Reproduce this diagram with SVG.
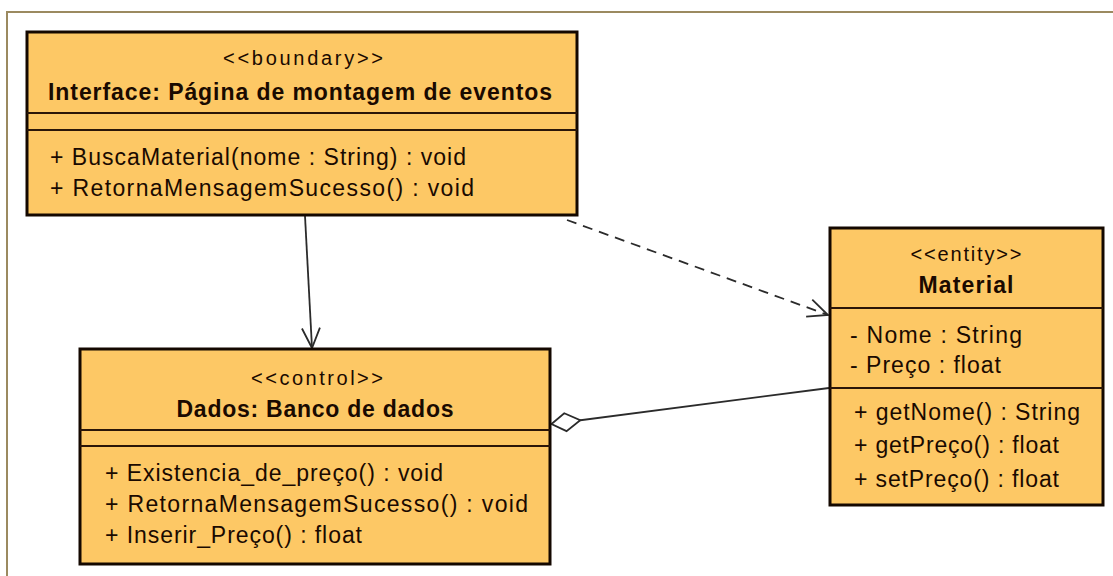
<svg xmlns="http://www.w3.org/2000/svg" width="1113" height="576" viewBox="0 0 1113 576">
<style>
.box{fill:#fdc865;stroke:#140800;stroke-width:3}
.div{stroke:#2a1608;stroke-width:2}
.st{font-family:"Liberation Sans",Arial,sans-serif;font-size:20px;fill:#1a0a00;text-anchor:middle}
.nm{font-family:"Liberation Sans",Arial,sans-serif;font-size:23px;font-weight:bold;fill:#1a0a00;text-anchor:middle}
.op{font-family:"Liberation Sans",Arial,sans-serif;font-size:23px;fill:#1a0a00}
.ln{fill:none;stroke:#2b2b2b;stroke-width:1.8}
</style>
<defs>
<marker id="open" viewBox="-22 -12 24 24" refX="0" refY="0" markerWidth="24" markerHeight="24" markerUnits="userSpaceOnUse" orient="auto">
<path d="M-20,-9 L0,0 L-20,9" fill="none" stroke="#2b2b2b" stroke-width="1.8" stroke-dasharray="none"/>
</marker>
<marker id="diamond" viewBox="-2 -12 34 24" refX="0" refY="0" markerWidth="34" markerHeight="24" markerUnits="userSpaceOnUse" orient="auto">
<path d="M0,0 L14,-9 L29,0 L14,9 Z" fill="#fff" stroke="#2b2b2b" stroke-width="1.8"/>
</marker>
</defs>
<rect width="1113" height="576" fill="#fff"/>
<path d="M7,576 V12 H1113" fill="none" stroke="#9b8a60" stroke-width="2"/>

<g id="connectors">
<line class="ln" x1="305" y1="216" x2="312" y2="348" marker-end="url(#open)"/>
<line class="ln" x1="567" y1="220" x2="828" y2="315" stroke-dasharray="10,7" marker-end="url(#open)"/>
<line class="ln" x1="551.5" y1="424" x2="829" y2="388" marker-start="url(#diamond)"/>
</g>

<g id="interface">
<rect class="box" x="27" y="32" width="550" height="183"/>
<line class="div" x1="27" y1="113" x2="577" y2="113"/>
<line class="div" x1="27" y1="130" x2="577" y2="130"/>
<text class="st" x="303" y="65" textLength="160" lengthAdjust="spacing">&lt;&lt;boundary&gt;&gt;</text>
<text class="nm" x="300" y="100" textLength="504" lengthAdjust="spacing">Interface: Página de montagem de eventos</text>
<text class="op" x="50" y="165" textLength="416" lengthAdjust="spacing">+ BuscaMaterial(nome : String) : void</text>
<text class="op" x="50" y="196" textLength="424" lengthAdjust="spacing">+ RetornaMensagemSucesso() : void</text>
</g>

<g id="dados">
<rect class="box" x="80" y="349" width="470" height="215"/>
<line class="div" x1="80" y1="430" x2="550" y2="430"/>
<line class="div" x1="80" y1="446" x2="550" y2="446"/>
<text class="st" x="317" y="385" textLength="132" lengthAdjust="spacing">&lt;&lt;control&gt;&gt;</text>
<text class="nm" x="315" y="417" textLength="277" lengthAdjust="spacing">Dados: Banco de dados</text>
<text class="op" x="105" y="481" textLength="338" lengthAdjust="spacing">+ Existencia_de_preço() : void</text>
<text class="op" x="105" y="512" textLength="423" lengthAdjust="spacing">+ RetornaMensagemSucesso() : void</text>
<text class="op" x="105" y="543" textLength="257" lengthAdjust="spacing">+ Inserir_Preço() : float</text>
</g>

<g id="material">
<rect class="box" x="830" y="228" width="273" height="277"/>
<line class="div" x1="830" y1="308" x2="1103" y2="308"/>
<line class="div" x1="830" y1="388" x2="1103" y2="388"/>
<text class="st" x="966" y="261" textLength="111" lengthAdjust="spacing">&lt;&lt;entity&gt;&gt;</text>
<text class="nm" x="966" y="293" textLength="95" lengthAdjust="spacing">Material</text>
<text class="op" x="850" y="343" textLength="172" lengthAdjust="spacing">- Nome : String</text>
<text class="op" x="850" y="373" textLength="151" lengthAdjust="spacing">- Preço : float</text>
<text class="op" x="854" y="420" textLength="226" lengthAdjust="spacing">+ getNome() : String</text>
<text class="op" x="854" y="453" textLength="205" lengthAdjust="spacing">+ getPreço() : float</text>
<text class="op" x="854" y="487" textLength="205" lengthAdjust="spacing">+ setPreço() : float</text>
</g>
</svg>
